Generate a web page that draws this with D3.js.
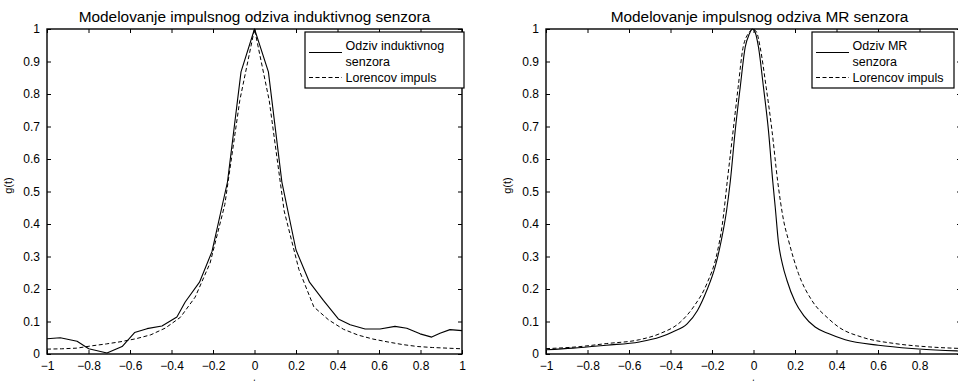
<!DOCTYPE html>
<html>
<head>
<meta charset="utf-8">
<script src="https://cdn.jsdelivr.net/npm/d3@7"></script>
<style>
  body { margin: 0; background: #fff; }
  svg { display: block; }
  text { font-family: "Liberation Sans", Arial, sans-serif; fill: #000; }
</style>
</head>
<body>
<div id="chart"></div>
<script>
// axis ticks
var xTicks = [-1, -0.8, -0.6, -0.4, -0.2, 0, 0.2, 0.4, 0.6, 0.8, 1];
var yTicks = [0, 0.1, 0.2, 0.3, 0.4, 0.5, 0.6, 0.7, 0.8, 0.9, 1];

// left panel: inductive sensor response
var indT = [-1, -0.936, -0.855, -0.799, -0.711, -0.638, -0.578, -0.518, -0.446, -0.374, -0.334, -0.265, -0.205, -0.13, -0.065, 0,
            0.067, 0.132, 0.2, 0.265, 0.332, 0.404, 0.461, 0.533, 0.605, 0.677, 0.734, 0.798, 0.854, 0.894, 0.942, 1];
var indG = [0.047, 0.050, 0.039, 0.016, 0.003, 0.023, 0.066, 0.078, 0.086, 0.114, 0.160, 0.221, 0.315, 0.53, 0.868, 1.0,
            0.868, 0.529, 0.32, 0.221, 0.165, 0.108, 0.090, 0.077, 0.077, 0.085, 0.079, 0.062, 0.052, 0.064, 0.075, 0.072];

// left panel: Lorentz pulse
var indLorT = [-1, -0.929, -0.857, -0.786, -0.714, -0.643, -0.571, -0.5, -0.429, -0.357, -0.286, -0.214, -0.143, -0.071, 0,
               0.071, 0.143, 0.214, 0.286, 0.357, 0.429, 0.5, 0.571, 0.643, 0.714, 0.786, 0.857, 0.929, 1];
var indLorG = [0.015, 0.016, 0.018, 0.025, 0.031, 0.038, 0.047, 0.059, 0.08, 0.113, 0.175, 0.28, 0.46, 0.78, 1.0,
               0.78, 0.44, 0.26, 0.145, 0.105, 0.076, 0.058, 0.046, 0.037, 0.029, 0.023, 0.02, 0.018, 0.016];

// right panel: MR sensor response
var mrT = [-1, -0.87, -0.71, -0.55, -0.45, -0.39, -0.32, -0.27, -0.225, -0.185, -0.155, -0.13, -0.112, -0.088, -0.064, -0.04, -0.02, -0.005,
           0.008, 0.024, 0.048, 0.072, 0.093, 0.105, 0.12, 0.14, 0.161, 0.201, 0.241, 0.297, 0.361, 0.442, 0.602, 0.763, 0.924, 1];
var mrG = [0.013, 0.018, 0.027, 0.037, 0.052, 0.068, 0.093, 0.134, 0.196, 0.268, 0.35, 0.44, 0.53, 0.688, 0.821, 0.944, 0.985, 1.0,
           0.99, 0.944, 0.821, 0.688, 0.53, 0.45, 0.345, 0.275, 0.227, 0.16, 0.119, 0.083, 0.063, 0.044, 0.027, 0.017, 0.011, 0.009];

// right panel: Lorentz pulse
var mrLorT = [-1, -0.85, -0.71, -0.55, -0.45, -0.353, -0.289, -0.225, -0.176, -0.15, -0.126, -0.098, -0.074, -0.05, -0.02, -0.003,
              0.015, 0.032, 0.061, 0.089, 0.116, 0.145, 0.169, 0.217, 0.281, 0.361, 0.41, 0.522, 0.683, 0.843, 1];
var mrLorG = [0.0165, 0.022, 0.032, 0.044, 0.063, 0.098, 0.145, 0.216, 0.309, 0.40, 0.534, 0.688, 0.821, 0.944, 0.99, 1.0,
              0.99, 0.944, 0.821, 0.688, 0.534, 0.411, 0.349, 0.247, 0.165, 0.109, 0.083, 0.052, 0.032, 0.022, 0.017];

var titles = ["Modelovanje impulsnog odziva induktivnog senzora", "Modelovanje impulsnog odziva MR senzora"];
var sensorLabels = [["Odziv induktivnog", "senzora"], ["Odziv MR", "senzora"]];
var lorLabel = "Lorencov impuls";
var yLabel = "g(t)";
var xLabel = "t";

var width = 958, height = 381;
var pw = 415, ph = 325;

var svg = d3.select("#chart").append("svg")
  .attr("width", width)
  .attr("height", height);

function zip(a, b) { return a.map(function(v, i) { return [v, b[i]]; }); }

function drawPanel(opt) {
  var g = svg.append("g").attr("transform", "translate(" + opt.left + "," + opt.top + ")");

  var x = d3.scaleLinear().domain([-1, 1]).range([0, pw]);
  var y = d3.scaleLinear().domain([0, 1]).range([ph, 0]);

  // tick labels that would fall past the window edge are not drawn (as in the picture)
  var fmt = d3.format("");
  var xFmt = function(d) { return opt.left + x(d) + 6 < width ? fmt(d) : ""; };

  // bottom / left with labels, top / right only ticks (inward)
  g.append("g").attr("class", "ax")
    .attr("transform", "translate(0," + ph + ")")
    .call(d3.axisBottom(x).tickValues(xTicks).tickSize(-4).tickPadding(7.5).tickFormat(xFmt));
  g.append("g").attr("class", "ax")
    .call(d3.axisLeft(y).tickValues(yTicks).tickSize(-4).tickPadding(7).tickFormat(fmt));
  g.append("g").attr("class", "ax")
    .call(d3.axisTop(x).tickValues(xTicks).tickSize(-4).tickFormat(""));
  g.append("g").attr("class", "ax")
    .attr("transform", "translate(" + pw + ",0)")
    .call(d3.axisRight(y).tickValues(yTicks).tickSize(-4).tickFormat(""));

  g.selectAll(".ax .domain").remove();
  g.selectAll(".ax line").attr("stroke", "#000");
  g.selectAll(".ax text").attr("font-size", 12).attr("fill", "#000")
    .style("font-family", "'Liberation Sans', Arial, sans-serif");

  var line = d3.line()
    .x(function(d) { return x(d[0]); })
    .y(function(d) { return y(d[1]); })
    .curve(opt.curve);

  g.append("path")
    .datum(zip(opt.lorT, opt.lorG))
    .attr("fill", "none")
    .attr("stroke", "#000")
    .attr("stroke-width", 1)
    .attr("stroke-dasharray", "4,2.5")
    .attr("d", line);

  g.append("path")
    .datum(zip(opt.t, opt.g))
    .attr("fill", "none")
    .attr("stroke", "#000")
    .attr("stroke-width", 1.1)
    .attr("stroke-linejoin", "round")
    .attr("d", line);

  // frame
  g.append("rect")
    .attr("x", 0).attr("y", 0)
    .attr("width", pw).attr("height", ph)
    .attr("fill", "none")
    .attr("stroke", "#000")
    .attr("stroke-width", 1.4);

  // title
  g.append("text")
    .attr("x", opt.titleX)
    .attr("y", -7)
    .attr("text-anchor", "middle")
    .attr("font-size", 15.4)
    .text(opt.title);

  // axis labels
  g.append("text")
    .attr("transform", "translate(-35," + (ph / 2 - 6) + ") rotate(-90)")
    .attr("text-anchor", "middle")
    .attr("font-size", 11)
    .text(yLabel);
  g.append("text")
    .attr("x", x(0))
    .attr("y", ph + 33)
    .attr("text-anchor", "middle")
    .attr("font-size", 11)
    .text(xLabel);

  // legend
  var lg = g.append("g").attr("transform", "translate(" + (pw + opt.legRight - opt.legW) + ",3)");
  lg.append("rect")
    .attr("width", opt.legW).attr("height", 56)
    .attr("fill", "#fff")
    .attr("stroke", "#000")
    .attr("stroke-width", 1.2);
  lg.append("line")
    .attr("x1", 4).attr("x2", 37).attr("y1", 20.5).attr("y2", 20.5)
    .attr("stroke", "#000").attr("stroke-width", 1.1);
  lg.append("line")
    .attr("x1", 4).attr("x2", 37).attr("y1", 45.5).attr("y2", 45.5)
    .attr("stroke", "#000").attr("stroke-width", 1).attr("stroke-dasharray", "4,2.5");
  lg.selectAll("text.s")
    .data(opt.label)
    .enter().append("text")
    .attr("x", 40.5)
    .attr("y", function(d, i) { return 18 + i * 16; })
    .attr("font-size", 12.5)
    .text(function(d) { return d; });
  lg.append("text")
    .attr("x", 40.5).attr("y", 50)
    .attr("font-size", 12.5)
    .text(lorLabel);
}

drawPanel({
  left: 47, top: 29,
  t: indT, g: indG, lorT: indLorT, lorG: indLorG,
  curve: d3.curveLinear,
  title: titles[0], titleX: pw / 2,
  label: sensorLabels[0],
  legW: 159, legRight: 2
});

drawPanel({
  left: 546, top: 29,
  t: mrT, g: mrG, lorT: mrLorT, lorG: mrLorG,
  curve: d3.curveMonotoneX,
  title: titles[1], titleX: pw / 2 + 6,
  label: sensorLabels[1],
  legW: 142, legRight: -7
});
</script>
</body>
</html>
